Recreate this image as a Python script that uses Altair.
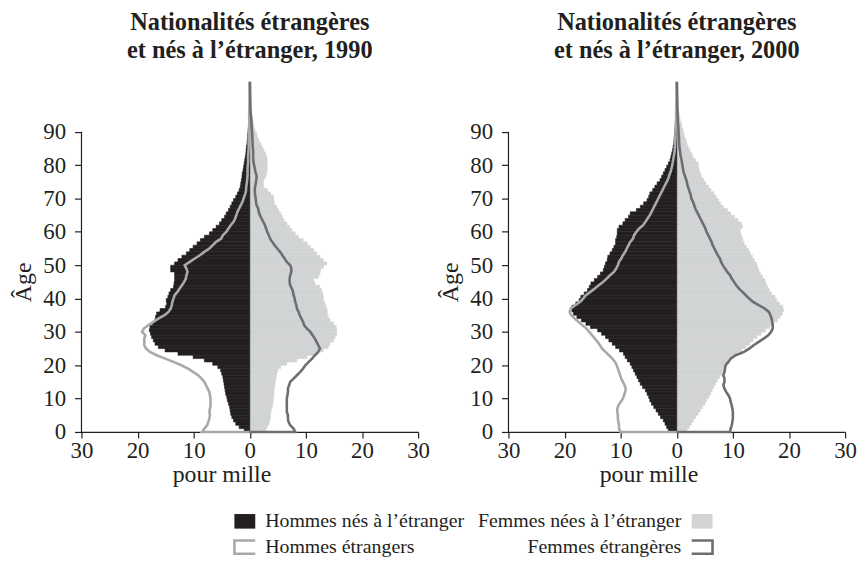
import altair as alt
import pandas as pd

FONT = "Liberation Serif"
TXT = "#231f20"
AXC = "#231f20"
BLACK = "#231f20"
LIGHT_FILL = "#d1d3d4"
LIGHT_LINE = "#a7a9ac"
DARK_LINE = "#6d6e71"

# ---------------- data (pour mille, by single year of age) ----------------
BAR_AGES = list(range(100))
LINE_AGES = list(range(106))

# 1990
men_born_1990 = [
    1.0, 1.9, 2.5, 2.9, 3.2, 3.4, 3.5, 3.6, 3.8, 4.0,
    4.1, 4.3, 4.4, 4.5, 4.6, 4.7, 4.8, 5.0, 5.2, 5.7,
    6.6, 8.1, 10.1, 12.8, 15.1, 16.3, 16.9, 17.2, 17.5, 17.7,
    17.9, 17.8, 17.3, 16.9, 16.8, 16.6, 16.0, 15.0, 14.8, 14.9,
    14.6, 14.4, 14.1, 13.6, 13.5, 13.4, 13.4, 13.4, 14.1, 14.1,
    13.4, 12.8, 12.1, 11.3, 10.7, 10.1, 9.4, 8.8, 8.1, 7.2,
    6.6, 6.0, 5.4, 5.0, 4.5, 4.2, 3.8, 3.5, 3.2, 2.9,
    2.5, 2.2, 1.9, 1.7, 1.6, 1.5, 1.4, 1.35, 1.2, 1.1,
    1.0, 0.9, 0.8, 0.7, 0.65, 0.6, 0.5, 0.45, 0.4, 0.35,
    0.3, 0.25, 0.2, 0.15, 0.1, 0.1, 0.08, 0.05, 0.05, 0.03,
]
women_born_1990 = [
    2.8, 3.1, 3.4, 3.6, 3.7, 3.7, 3.8, 4.0, 4.1, 4.2,
    4.2, 4.3, 4.3, 4.4, 4.5, 4.6, 4.7, 4.8, 5.0, 5.5,
    6.6, 8.4, 10.2, 11.9, 13.1, 14.0, 14.3, 14.9, 15.2, 15.5,
    15.5, 15.4, 14.9, 14.3, 14.0, 13.8, 13.8, 13.6, 13.4, 13.1,
    13.1, 13.0, 12.8, 12.5, 11.6, 11.4, 12.2, 12.5, 12.6, 13.1,
    13.7, 13.1, 12.5, 11.9, 11.4, 10.8, 10.2, 9.5, 8.7, 8.1,
    7.5, 7.1, 6.6, 6.1, 5.8, 5.5, 5.1, 4.8, 4.4, 4.3,
    4.2, 3.7, 3.1, 2.5, 2.4, 2.5, 2.8, 3.0, 3.1, 3.1,
    3.1, 3.1, 3.0, 2.8, 2.5, 2.2, 1.9, 1.6, 1.35, 1.2,
    0.9, 0.75, 0.65, 0.5, 0.4, 0.3, 0.2, 0.1, 0.05, 0.03,
]
men_foreign_1990 = [
    8.5, 8.1, 7.6, 7.4, 7.2, 7.1, 7.2, 7.1, 7.0, 7.0,
    7.0, 7.1, 7.2, 7.5, 7.8, 8.1, 8.6, 9.2, 10.1, 11.0,
    12.2, 13.6, 15.1, 16.6, 17.8, 18.5, 18.8, 18.8, 18.8, 18.6,
    19.2, 18.9, 18.1, 17.2, 16.3, 15.2, 14.5, 14.1, 13.9, 13.8,
    13.6, 13.4, 12.9, 12.5, 12.1, 11.7, 11.4, 11.3, 11.1, 11.3,
    11.6, 10.7, 9.8, 8.9, 8.1, 7.2, 6.6, 6.0, 5.1, 4.8,
    4.2, 3.8, 3.4, 2.9, 2.6, 2.4, 2.2, 1.9, 1.6, 1.3,
    1.1, 0.9, 0.7, 0.65, 0.6, 0.5, 0.45, 0.4, 0.4, 0.4,
    0.35, 0.3, 0.3, 0.3, 0.25, 0.2, 0.2, 0.2, 0.2, 0.15,
    0.15, 0.1, 0.1, 0.1, 0.1, 0.1, 0.08, 0.08, 0.07, 0.06,
    0.05, 0.05, 0.04, 0.04, 0.03, 0.03,
]
women_foreign_1990 = [
    8.1, 7.8, 7.2, 6.9, 6.8, 6.8, 6.6, 6.6, 6.6, 6.6,
    6.6, 6.7, 6.8, 6.8, 7.0, 7.2, 7.8, 8.4, 9.0, 9.5,
    9.9, 10.5, 11.1, 11.6, 12.2, 12.5, 12.2, 11.9, 11.6, 11.2,
    10.8, 10.2, 9.7, 9.5, 9.2, 8.9, 8.7, 8.4, 8.3, 8.1,
    8.0, 7.8, 7.7, 7.5, 7.2, 7.1, 7.1, 7.2, 7.4, 7.4,
    7.2, 6.6, 6.2, 5.8, 5.4, 4.9, 4.4, 4.0, 3.6, 3.4,
    3.1, 2.9, 2.7, 2.4, 2.1, 1.8, 1.6, 1.5, 1.2, 1.1,
    1.05, 0.95, 0.9, 0.9, 1.0, 1.1, 1.2, 1.2, 1.0, 0.9,
    0.75, 0.65, 0.6, 0.6, 0.6, 0.55, 0.5, 0.5, 0.45, 0.45,
    0.4, 0.35, 0.3, 0.3, 0.25, 0.2, 0.15, 0.12, 0.1, 0.1,
    0.08, 0.07, 0.06, 0.05, 0.04, 0.03,
]

# 2000
men_born_2000 = [
    1.5, 1.8, 2.1, 2.4, 2.9, 3.3, 3.7, 4.1, 4.5, 4.8,
    5.0, 5.3, 5.6, 6.1, 6.5, 6.8, 7.1, 7.4, 7.7, 8.0,
    8.3, 8.8, 9.2, 9.5, 10.2, 10.9, 11.5, 12.1, 12.7, 13.4,
    14.1, 15.4, 16.2, 17.0, 17.8, 18.4, 18.7, 18.7, 18.0, 17.4,
    17.1, 16.5, 15.9, 15.6, 15.3, 14.7, 14.1, 13.6, 13.1, 12.9,
    12.7, 12.4, 12.3, 11.9, 11.5, 11.2, 10.9, 10.9, 10.7, 10.6,
    10.6, 10.3, 9.6, 9.2, 8.6, 8.3, 7.2, 6.5, 5.9, 5.3,
    5.0, 4.8, 4.3, 3.9, 3.5, 3.0, 2.7, 2.4, 2.1, 1.8,
    1.5, 1.2, 1.05, 0.9, 0.75, 0.65, 0.55, 0.5, 0.45, 0.4,
    0.35, 0.3, 0.25, 0.2, 0.2, 0.15, 0.1, 0.05, 0.05, 0.03,
]
women_born_2000 = [
    1.8, 2.2, 2.6, 3.0, 3.4, 3.8, 4.2, 4.6, 5.0, 5.3,
    5.7, 6.0, 6.3, 6.6, 6.9, 7.2, 7.6, 8.0, 8.3, 8.6,
    8.9, 9.4, 10.0, 10.7, 11.5, 12.3, 13.0, 13.6, 14.3, 15.0,
    15.8, 16.6, 17.3, 17.9, 18.4, 18.8, 19.0, 18.9, 18.3, 17.8,
    17.5, 16.9, 16.5, 16.2, 15.9, 15.7, 15.3, 14.9, 14.6, 14.4,
    14.2, 13.8, 13.5, 13.1, 12.8, 12.4, 12.0, 11.8, 11.6, 11.4,
    11.3, 11.7, 11.5, 10.9, 10.3, 9.6, 9.0, 8.3, 7.8, 7.4,
    7.0, 6.6, 6.1, 5.7, 5.2, 4.8, 4.4, 4.2, 4.0, 3.9,
    3.8, 3.3, 2.9, 2.6, 2.3, 2.0, 1.8, 1.6, 1.4, 1.2,
    1.1, 0.9, 0.8, 0.6, 0.5, 0.4, 0.3, 0.2, 0.1, 0.05,
]
men_foreign_2000 = [
    10.0, 10.3, 10.3, 10.4, 10.5, 10.5, 10.6, 10.6, 10.4, 10.0,
    9.6, 9.4, 9.2, 9.1, 9.3, 9.6, 9.9, 10.1, 10.3, 10.5,
    10.7, 11.0, 11.5, 12.1, 12.7, 13.3, 13.7, 14.1, 14.6, 15.1,
    15.6, 16.1, 16.8, 17.5, 18.2, 18.8, 19.1, 18.9, 18.1, 17.2,
    16.7, 16.2, 15.4, 14.6, 13.9, 13.1, 12.5, 11.9, 11.2, 10.8,
    10.5, 10.3, 9.9, 9.6, 9.2, 8.9, 8.6, 8.3, 7.8, 7.6,
    7.2, 6.7, 6.0, 5.6, 5.2, 4.8, 4.5, 4.2, 3.9, 3.6,
    3.3, 3.0, 2.7, 2.4, 2.1, 1.8, 1.5, 1.35, 1.1, 0.95,
    0.8, 0.7, 0.6, 0.5, 0.4, 0.35, 0.3, 0.3, 0.25, 0.25,
    0.2, 0.2, 0.15, 0.15, 0.1, 0.1, 0.1, 0.08, 0.07, 0.06,
    0.05, 0.05, 0.04, 0.04, 0.03, 0.03,
]
women_foreign_2000 = [
    9.5, 9.6, 9.8, 9.9, 10.0, 10.0, 10.0, 9.9, 9.8, 9.6,
    9.5, 9.2, 8.8, 8.5, 8.3, 8.5, 8.5, 8.3, 8.5, 8.6,
    8.7, 9.2, 9.6, 10.5, 12.0, 12.9, 13.7, 14.6, 15.5, 16.3,
    16.8, 17.1, 17.1, 17.0, 16.9, 16.7, 16.4, 15.7, 14.6, 13.6,
    12.9, 12.3, 11.7, 11.1, 10.6, 10.2, 9.8, 9.5, 9.0, 8.6,
    8.2, 7.9, 7.7, 7.3, 7.0, 6.7, 6.4, 6.2, 5.9, 5.6,
    5.3, 5.1, 4.8, 4.5, 4.2, 3.9, 3.6, 3.3, 3.1, 2.9,
    2.6, 2.5, 2.3, 2.1, 1.9, 1.8, 1.6, 1.4, 1.2, 1.1,
    1.0, 0.9, 0.8, 0.65, 0.6, 0.5, 0.45, 0.4, 0.4, 0.35,
    0.3, 0.3, 0.25, 0.2, 0.2, 0.15, 0.15, 0.12, 0.1, 0.1,
    0.08, 0.07, 0.06, 0.05, 0.04, 0.03,
]

X_TICKS = [-30, -20, -10, 0, 10, 20, 30]
Y_TICKS = [0, 10, 20, 30, 40, 50, 60, 70, 80, 90]

TITLES = {
    1990: ["Nationalités étrangères", "et nés à l’étranger, 1990"],
    2000: ["Nationalités étrangères", "et nés à l’étranger, 2000"],
}

LEGEND_LABELS = [
    "Hommes nés à l’étranger",
    "Femmes nées à l’étranger",
    "Hommes étrangers",
    "Femmes étrangères",
]

PW, PH = 339, 356
XS = alt.Scale(domain=[-30, 30], nice=False, zero=False)
YS = alt.Scale(domain=[0, 106], nice=False, zero=False)

X_AXIS = alt.Axis(values=X_TICKS, labelExpr="abs(datum.value)", title="pour mille",
                  tickSize=6, labelPadding=2, labelFlush=False, labelOverlap=False,
                  titleX=141, titleY=31, titleAlign="center", titleBaseline="top",
                  domainWidth=1.2, tickWidth=1.2)
Y_AXIS = alt.Axis(values=Y_TICKS, title="Âge", domain=False, tickSize=7,
                  labelPadding=9, titlePadding=7, tickWidth=1.2, labelOverlap=False,
                  labelFlush=False, titleY=PH - 45 * PH / 106, titleAlign="center",
                  tickCount=10)

# legend layout, in pixels relative to the left panel's plot area
OX, OY = 83, 78
RECT_PATH = "M-1,-0.7L1,-0.7L1,0.7L-1,0.7Z"
LEFT_OPEN = "M1,-0.64L-1,-0.64L-1,0.64L1,0.64"
RIGHT_OPEN = "M-1,-0.64L1,-0.64L1,0.64L-1,0.64"


def legend_item(label, sym_x, text_x, y, align, shape, filled, color):
    d = pd.DataFrame({"label": [label]})
    if filled:
        sym = alt.Chart(d).mark_point(shape=shape, filled=True, size=441, fill=color,
                                      strokeWidth=0, opacity=1)
    else:
        sym = alt.Chart(d).mark_point(shape=shape, filled=False, size=441, stroke=color,
                                      strokeWidth=2.6, opacity=1)
    sym = sym.encode(x=alt.value(sym_x - OX), y=alt.value(y - OY))
    txt = alt.Chart(d).mark_text(align=align, baseline="middle", font=FONT, fontSize=20,
                                 color=TXT).encode(
        x=alt.value(text_x - OX), y=alt.value(y - OY), text="label:N")
    return [sym, txt]


def legend_layers():
    items = []
    items += legend_item(LEGEND_LABELS[0], 247.5, 268, 524, "left", RECT_PATH, True, BLACK)
    items += legend_item(LEGEND_LABELS[1], 708, 687, 524, "right", RECT_PATH, True, LIGHT_FILL)
    items += legend_item(LEGEND_LABELS[2], 247.5, 268, 550, "left", LEFT_OPEN, False, LIGHT_LINE)
    items += legend_item(LEGEND_LABELS[3], 708, 687, 550, "right", RIGHT_OPEN, False, DARK_LINE)
    return items


def panel(year, men_born, women_born, men_for, women_for, with_legend=False):
    bars = pd.DataFrame({"age": BAR_AGES, "men": men_born, "women": women_born})
    lines = pd.DataFrame({
        "k": list(range(len(LINE_AGES) + 1)),
        "age": [0] + LINE_AGES,
        "men": [0] + men_for,
        "women": [0] + women_for,
    })

    women_bars = alt.Chart(bars).transform_calculate(age2="datum.age + 1").mark_rect(
        color=LIGHT_FILL, stroke=LIGHT_FILL, strokeWidth=0.6
    ).encode(
        x=alt.X("women:Q", scale=XS, axis=X_AXIS),
        x2=alt.datum(0),
        y=alt.Y("age:Q", scale=YS, axis=Y_AXIS),
        y2="age2:Q",
    )
    men_bars = alt.Chart(bars).transform_calculate(
        neg="-datum.men", age2="datum.age + 1"
    ).mark_rect(color=BLACK, stroke=BLACK, strokeWidth=0.6).encode(
        x=alt.X("neg:Q", scale=XS, axis=X_AXIS),
        x2=alt.datum(0),
        y=alt.Y("age:Q", scale=YS, axis=Y_AXIS),
        y2="age2:Q",
    )
    men_line = alt.Chart(lines).transform_calculate(neg="-datum.men").mark_line(
        color=LIGHT_LINE, strokeWidth=2.6
    ).encode(x=alt.X("neg:Q", scale=XS, axis=X_AXIS),
             y=alt.Y("age:Q", scale=YS, axis=Y_AXIS), order="k:Q")
    women_line = alt.Chart(lines).mark_line(color=DARK_LINE, strokeWidth=2.6).encode(
        x=alt.X("women:Q", scale=XS, axis=X_AXIS),
        y=alt.Y("age:Q", scale=YS, axis=Y_AXIS), order="k:Q"
    )
    yrule = alt.Chart(pd.DataFrame({"a": [0]})).mark_rule(color=AXC, strokeWidth=1.2).encode(
        x=alt.XDatum(X_TICKS[0], scale=XS, axis=X_AXIS),
        y=alt.YDatum(Y_TICKS[0], scale=YS, axis=Y_AXIS),
        y2=alt.datum(Y_TICKS[-1]),
    )
    layers = [women_bars, men_bars, men_line, women_line, yrule]
    if with_legend:
        layers += legend_layers()
    return alt.layer(*layers).properties(
        width=PW, height=PH,
        title=alt.TitleParams(TITLES[year], font=FONT, fontSize=24.5, fontWeight="bold",
                              color=TXT, lineHeight=28, anchor="middle", frame="group",
                              offset=13),
    )


p1 = panel(1990, men_born_1990, women_born_1990, men_foreign_1990, women_foreign_1990,
           with_legend=True)
p2 = panel(2000, men_born_2000, women_born_2000, men_foreign_2000, women_foreign_2000)

chart = alt.hconcat(p1, p2, spacing=91, bounds="flush").properties(
    padding={"left": 4, "top": 0, "right": 0, "bottom": 0}
).configure_view(stroke=None).configure_axis(
    labelFont=FONT, titleFont=FONT, labelFontSize=23, titleFontSize=24,
    labelColor=TXT, titleColor=TXT, domainColor=AXC, tickColor=AXC, grid=False,
    titleFontWeight="normal"
)

chart.save("out.html", embed_options={"renderer": "svg", "actions": False})
